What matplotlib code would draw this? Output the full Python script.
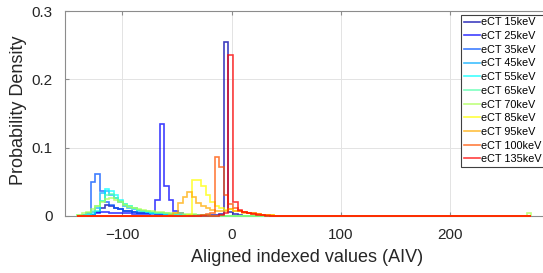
import numpy as np
import matplotlib.pyplot as plt

plt.rcParams['font.family'] = ['Liberation Sans', 'DejaVu Sans']

# common histogram grid (bin k covers first_edge + k*bin_width ...)
first_edge = -141.6
bin_width = 4.2
n_bins = 99

labels = ['eCT 15keV', 'eCT 25keV', 'eCT 35keV', 'eCT 45keV', 'eCT 55keV',
          'eCT 65keV', 'eCT 70keV', 'eCT 85keV', 'eCT 95keV', 'eCT 100keV',
          'eCT 135keV']

# probability densities, each list starts at the given bin index
d15 = [0.002, 0.006, 0.012, 0.016, 0.015, 0.012, 0.010, 0.008, 0.007, 0.006,
       0.005, 0.005, 0.004, 0.004, 0.003, 0.003, 0.003, 0.002, 0.002, 0.002,
       0.002, 0.002, 0.002, 0.002, 0.002, 0.002, 0.002, 0.002, 0.003, 0.255,
       0.006, 0.003, 0.002]
d25 = [0.002, 0.004, 0.006, 0.006, 0.005, 0.005, 0.004, 0.004, 0.004, 0.003,
       0.003, 0.003, 0.003, 0.004, 0.023, 0.134, 0.044, 0.023, 0.008, 0.004,
       0.002, 0.001]
d35 = [0.001, 0.005, 0.050, 0.062, 0.036, 0.021, 0.016, 0.012, 0.010, 0.008,
       0.007, 0.006, 0.005, 0.004, 0.004, 0.003, 0.003, 0.002, 0.002, 0.001]
d45 = [0.002, 0.006, 0.012, 0.034, 0.036, 0.031, 0.026, 0.020, 0.015, 0.012,
       0.010, 0.008, 0.007, 0.006, 0.005, 0.004, 0.004, 0.003, 0.003, 0.002,
       0.002, 0.001]
d55 = [0.001, 0.003, 0.008, 0.022, 0.040, 0.036, 0.030, 0.024, 0.018, 0.014,
       0.011, 0.009, 0.007, 0.006, 0.005, 0.004, 0.004, 0.003, 0.003, 0.002,
       0.002, 0.001]
d65 = [0.001, 0.002, 0.004, 0.008, 0.014, 0.022, 0.030, 0.032, 0.027, 0.022,
       0.017, 0.014, 0.011, 0.009, 0.008, 0.007, 0.006, 0.005, 0.004, 0.004,
       0.003, 0.003, 0.002, 0.002, 0.002, 0.001]
d70 = [0.002, 0.004, 0.006, 0.010, 0.015, 0.020, 0.025, 0.026, 0.024, 0.020,
       0.016, 0.013, 0.011, 0.010, 0.009, 0.008, 0.007, 0.006, 0.006, 0.005,
       0.005, 0.004, 0.004, 0.003, 0.003, 0.003, 0.002, 0.002, 0.002]
d70_far = [0.005]
d85 = [0.002, 0.052, 0.053, 0.044, 0.030, 0.020, 0.014, 0.011, 0.009, 0.010,
       0.008, 0.007, 0.006, 0.005, 0.004, 0.003, 0.002, 0.002, 0.001]
d95 = [0.002, 0.004, 0.019, 0.028, 0.035, 0.028, 0.019, 0.014, 0.012, 0.009,
       0.008, 0.007, 0.007, 0.010, 0.008, 0.007, 0.005, 0.004, 0.003, 0.003,
       0.002, 0.002, 0.001]
d100 = [0.002, 0.003, 0.004, 0.087, 0.072, 0.031, 0.018, 0.011, 0.008, 0.006,
        0.005, 0.004, 0.003, 0.002, 0.001]
d135 = [0.001, 0.004, 0.235, 0.021, 0.009, 0.006, 0.004, 0.003, 0.002, 0.001]

segments = [
    [(3, d15)],
    [(3, d25)],
    [(1, d35)],
    [(2, d45)],
    [(2, d55)],
    [(0, d65)],
    [(0, d70), (98, d70_far)],
    [(24, d85)],
    [(20, d95)],
    [(27, d100)],
    [(31, d135)],
]

colors = [(0, 0, 0.67), (0, 0, 1), (0, 0.33, 1), (0, 0.67, 1), (0, 1, 1),
          (0.33, 1, 0.67), (0.67, 1, 0.33), (1, 1, 0), (1, 0.67, 0),
          (1, 0.33, 0), (1, 0, 0)]

edges = first_edge + bin_width * np.arange(n_bins + 1)

fig = plt.figure(figsize=(5.43, 2.73), dpi=100)
ax = fig.add_axes([0.1188, 0.2088, 0.8917, 0.7509])

for segs, col, lab in zip(segments, colors, labels):
    h = np.zeros(n_bins)
    for start, vals in segs:
        h[start:start + len(vals)] = vals
    ax.stairs(h, edges, color=col, lw=1.2, alpha=0.75, label=lab,
              zorder=3, clip_on=False)

ax.set_xlim(-153, 290)
ax.set_ylim(0, 0.3)
ax.set_xticks([-100, 0, 100, 200])
ax.set_yticks([0, 0.1, 0.2, 0.3])
ax.set_yticklabels(['0', '0.1', '0.2', '0.3'])
ax.grid(True, color='#e3e3e3', lw=0.7)
ax.set_axisbelow(True)
for s in ax.spines.values():
    s.set_color('#8c8c8c')
    s.set_linewidth(0.8)
ax.tick_params(direction='in', length=3, color='#8c8c8c', labelsize=11,
               labelcolor='#262626', top=True)
ax.tick_params(axis='x', pad=8.5)
ax.tick_params(axis='y', pad=8.5)
ax.set_xlabel('Aligned indexed values (AIV)', fontsize=13, color='#262626')
ax.set_ylabel('Probability Density', fontsize=13, color='#262626')
ax.xaxis.set_label_coords(0.5, -0.163)
ax.yaxis.set_label_coords(-0.077, 0.515)

leg = ax.legend(loc='upper right', bbox_to_anchor=(0.992, 0.982),
                borderaxespad=0, fontsize=7.8, handlelength=1.5,
                handletextpad=0.15, labelspacing=0.34, borderpad=0.25,
                fancybox=False, framealpha=1, edgecolor='#404040')
leg.get_frame().set_linewidth(0.8)
leg.set_zorder(5)

fig.savefig('out.png', dpi=100)
